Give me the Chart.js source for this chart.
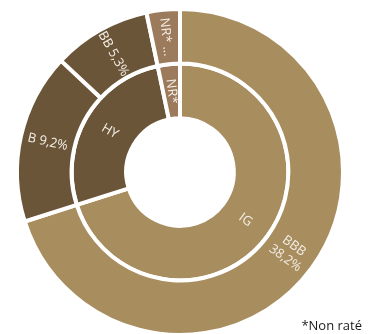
<!DOCTYPE html>
<html>
<head>
<meta charset="utf-8">
<script src="https://cdn.jsdelivr.net/npm/chart.js@4.4.1/dist/chart.umd.min.js"></script>
<style>
  html, body { margin: 0; padding: 0; background: #ffffff; }
  #wrap { position: relative; width: 368px; height: 334px; }
  #note { position: absolute; right: 6px; bottom: 1px; font-family: "Open Sans", sans-serif; font-size: 13px; color: #1a1a1a; line-height: 16px; }
</style>
</head>
<body>
<div id="wrap">
  <canvas id="c" width="368" height="334"></canvas>
  <div id="note">*Non raté</div>
</div>
<script>
// Outer ring: ratings
const outerCategories = ["BBB", "B", "BB", "NR*"];
const outerValues = [38.2, 9.2, 5.3, 1.8];
const outerLabels = [["BBB", "38,2%"], ["B 9,2%"], ["BB 5,3%"], ["NR* ..."]];
// Inner ring: grades
const innerCategories = ["IG", "HY", "NR*"];
const innerValues = [38.2, 14.5, 1.8];
const innerLabels = [["IG"], ["HY"], ["NR*"]];

const cLight = "#A88D5E";
const cDark = "#6B5539";
const cNR = "#9C7A5C";

const labelPlugin = {
  id: "arcLabels",
  afterDatasetsDraw(chart) {
    const ctx = chart.ctx;
    chart.data.datasets.forEach((ds, di) => {
      const meta = chart.getDatasetMeta(di);
      meta.data.forEach((arc, i) => {
        const p = arc.getProps(["x", "y", "startAngle", "endAngle", "innerRadius", "outerRadius"], true);
        const a = (p.startAngle + p.endAngle) / 2;
        const r = (p.innerRadius + p.outerRadius) / 2;
        const x = p.x + Math.cos(a) * r;
        const y = p.y + Math.sin(a) * r;
        const rot = Math.cos(a) >= 0 ? a : a + Math.PI;
        const lines = ds.arcLabels[i];
        ctx.save();
        ctx.translate(x, y);
        ctx.rotate(rot);
        ctx.fillStyle = "#F3EEE6";
        ctx.font = "13px 'Open Sans', sans-serif";
        ctx.textAlign = "center";
        ctx.textBaseline = "middle";
        const lh = 15;
        const off = -(lines.length - 1) * lh / 2;
        lines.forEach((t, k) => ctx.fillText(t, 0, off + k * lh));
        ctx.restore();
      });
    });
  }
};

new Chart(document.getElementById("c"), {
  type: "doughnut",
  data: {
    labels: outerCategories,
    datasets: [
      {
        data: outerValues,
        backgroundColor: [cLight, cDark, cDark, cNR],
        borderColor: "#ffffff",
        borderWidth: 4,
        arcLabels: outerLabels
      },
      {
        data: innerValues,
        backgroundColor: [cLight, cDark, cNR],
        borderColor: "#ffffff",
        borderWidth: 4,
        arcLabels: innerLabels
      }
    ]
  },
  options: {
    responsive: false,
    animation: false,
    radius: 163,
    cutout: "33%",
    layout: { padding: { top: 10, bottom: 0, left: 0, right: 8 } },
    plugins: { legend: { display: false }, tooltip: { enabled: false } }
  },
  plugins: [labelPlugin]
});
</script>
</body>
</html>
